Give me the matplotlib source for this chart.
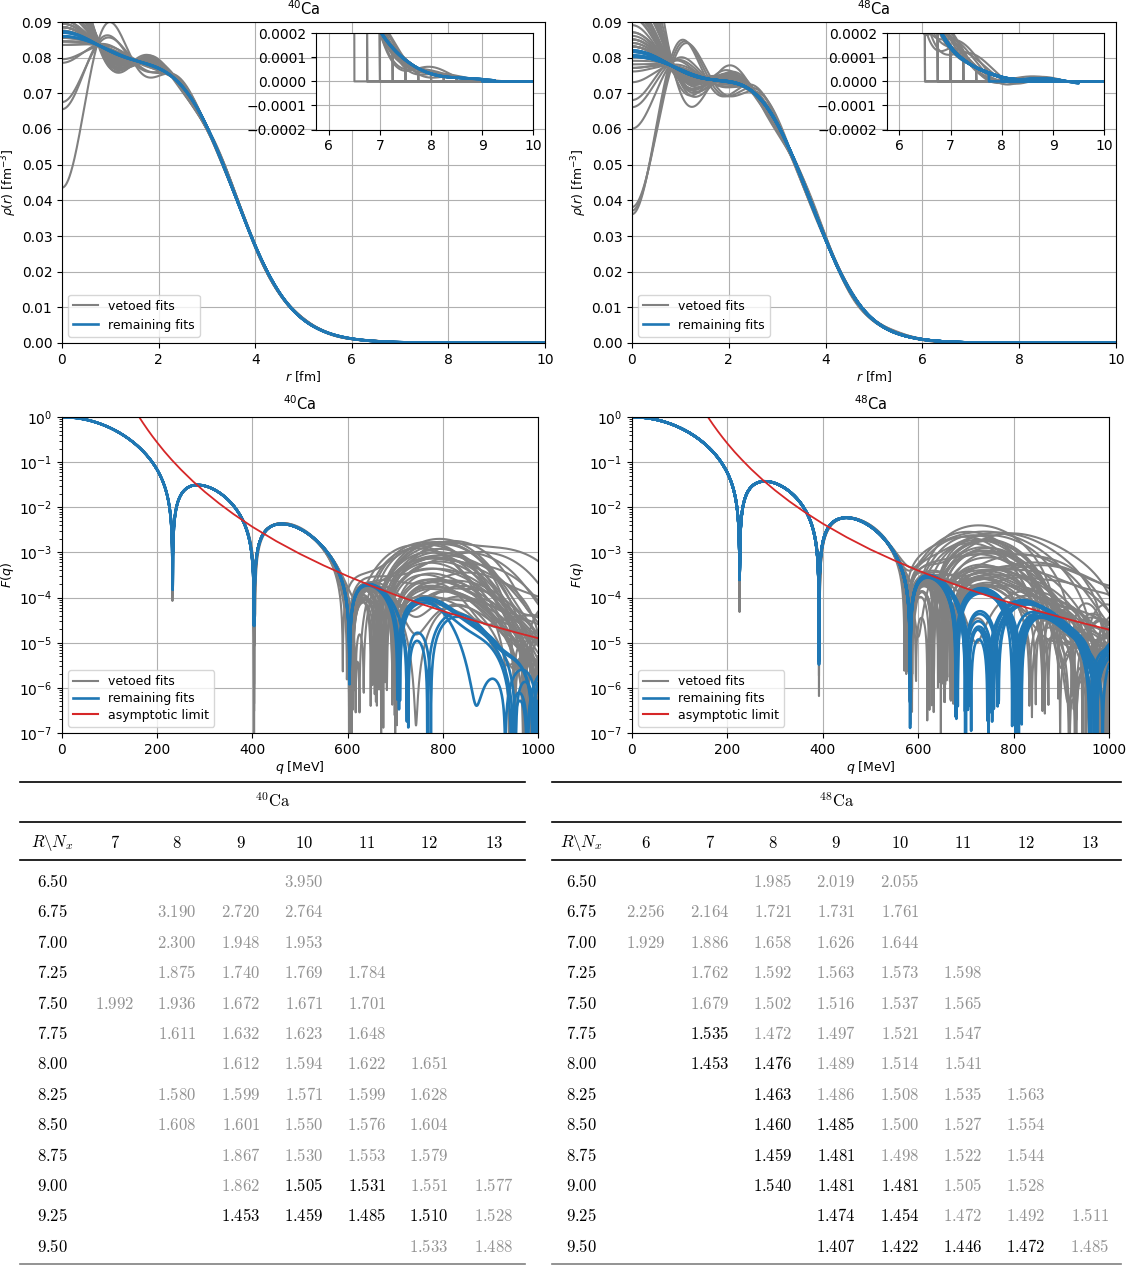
import numpy as np
import matplotlib
matplotlib.use("Agg")
import matplotlib.pyplot as plt
from matplotlib.lines import Line2D
from matplotlib.ticker import FuncFormatter

HBARC = 197.327      # MeV fm
Z = 20
R_REF = 10.0         # fm, radius of the Fourier-Bessel reference expansion

# ---------------- data ----------------
# reference charge form factor read at the Fourier-Bessel nodes q_n = n*pi/R_REF (n = 1..16)
Fnode_40 = [8.1522e-01, 4.2579e-01, 1.1246e-01, -1.7371e-02, -2.7533e-02, -7.2650e-03, 3.4659e-03, 3.4806e-03,
            9.8339e-04, -1.3237e-04, -1.0861e-04, 4.4365e-05, 8.0e-06, -5.0e-06, -3.0e-06, 1.5e-06]
Fnode_48 = [8.1585e-01, 4.2324e-01, 1.0341e-01, -2.6749e-02, -3.0799e-02, -5.6196e-03, 5.5444e-03, 4.0063e-03,
            6.5762e-04, -2.9e-04, -4.1037e-05, 8.3740e-05, -4.0e-05, -4.0e-05, -2.0e-05, 1.0e-05]

# asymptotic limit (red curve)
asym_q = [150, 160, 170, 180, 190, 200, 215, 230, 250, 275, 300, 330, 360, 400, 450, 500,
          550, 600, 650, 700, 750, 800, 850, 900, 950, 1000]
asym_40 = [1.62, 1.08, 0.744, 0.522, 0.373, 0.272, 0.173, 0.114, 0.0681, 0.0377, 0.022, 0.0122, 0.0071,
           0.00369, 0.00178, 0.000926, 0.000513, 0.000299, 0.000182, 0.000115, 7.5e-05, 5.03e-05,
           3.45e-05, 2.42e-05, 1.73e-05, 1.26e-05]
asym_48 = [1.42, 0.968, 0.677, 0.483, 0.351, 0.259, 0.169, 0.114, 0.0695, 0.0396, 0.0237, 0.0135, 0.00809,
           0.00434, 0.00217, 0.00116, 0.000664, 0.000397, 0.000248, 0.00016, 0.000106, 7.27e-05,
           5.09e-05, 3.63e-05, 2.64e-05, 1.95e-05]

# table / fits: cut-off radius R, number of terms N_x, table value, kept (1) or vetoed (0),
# and deviation of the fitted central density from the reference (fm^-3)
fit_R_40 = [6.50, 6.75, 6.75, 6.75, 7.00, 7.00, 7.00, 7.25, 7.25, 7.25, 7.25,
            7.50, 7.50, 7.50, 7.50, 7.50, 7.75, 7.75, 7.75, 7.75,
            8.00, 8.00, 8.00, 8.00, 8.25, 8.25, 8.25, 8.25, 8.25,
            8.50, 8.50, 8.50, 8.50, 8.50, 8.75, 8.75, 8.75, 8.75,
            9.00, 9.00, 9.00, 9.00, 9.00, 9.25, 9.25, 9.25, 9.25, 9.25, 9.50, 9.50]
fit_N_40 = [10, 8, 9, 10, 8, 9, 10, 8, 9, 10, 11,
            7, 8, 9, 10, 11, 8, 9, 10, 11,
            9, 10, 11, 12, 8, 9, 10, 11, 12,
            8, 9, 10, 11, 12, 9, 10, 11, 12,
            9, 10, 11, 12, 13, 9, 10, 11, 12, 13, 12, 13]
fit_val_40 = [3.950, 3.190, 2.720, 2.764, 2.300, 1.948, 1.953, 1.875, 1.740, 1.769, 1.784,
              1.992, 1.936, 1.672, 1.671, 1.701, 1.611, 1.632, 1.623, 1.648,
              1.612, 1.594, 1.622, 1.651, 1.580, 1.599, 1.571, 1.599, 1.628,
              1.608, 1.601, 1.550, 1.576, 1.604, 1.867, 1.530, 1.553, 1.579,
              1.862, 1.505, 1.531, 1.551, 1.577, 1.453, 1.459, 1.485, 1.510, 1.528, 1.533, 1.488]
fit_kept_40 = [0] * 39 + [1, 1, 0, 0, 1, 1, 1, 1, 0, 0, 0]
fit_dev_40 = [-0.043, 0.02, 0.025, -0.021, 0.022, 0.015, -0.019, 0.002, 0.02, 0.012, -0.008,
              -0.003, 0.004, 0.016, 0.004, 0.015, 0.003, 0.022, 0.01, 0.003,
              -0.002, 0.018, 0.014, 0.002, 0.001, -0.002, 0.014, -0.007, 0.001,
              0.002, 0.003, 0.026, 0.008, -0.003, -0.001, 0.013, 0.012, 0.002,
              0.002, 0.0008, 0.0005, 0.006, -0.002, -0.0006, 0.0007, -0.0005, 0.0005, 0.004, 0.007, -0.001]

fit_R_48 = [6.50, 6.50, 6.50, 6.75, 6.75, 6.75, 6.75, 6.75, 7.00, 7.00, 7.00, 7.00, 7.00,
            7.25, 7.25, 7.25, 7.25, 7.25, 7.50, 7.50, 7.50, 7.50, 7.50,
            7.75, 7.75, 7.75, 7.75, 7.75, 8.00, 8.00, 8.00, 8.00, 8.00,
            8.25, 8.25, 8.25, 8.25, 8.25, 8.50, 8.50, 8.50, 8.50, 8.50,
            8.75, 8.75, 8.75, 8.75, 8.75, 9.00, 9.00, 9.00, 9.00, 9.00,
            9.25, 9.25, 9.25, 9.25, 9.25, 9.50, 9.50, 9.50, 9.50, 9.50]
fit_N_48 = [8, 9, 10, 6, 7, 8, 9, 10, 6, 7, 8, 9, 10,
            7, 8, 9, 10, 11, 7, 8, 9, 10, 11,
            7, 8, 9, 10, 11, 7, 8, 9, 10, 11,
            8, 9, 10, 11, 12, 8, 9, 10, 11, 12,
            8, 9, 10, 11, 12, 8, 9, 10, 11, 12,
            9, 10, 11, 12, 13, 9, 10, 11, 12, 13]
fit_val_48 = [1.985, 2.019, 2.055, 2.256, 2.164, 1.721, 1.731, 1.761, 1.929, 1.886, 1.658, 1.626, 1.644,
              1.762, 1.592, 1.563, 1.573, 1.598, 1.679, 1.502, 1.516, 1.537, 1.565,
              1.535, 1.472, 1.497, 1.521, 1.547, 1.453, 1.476, 1.489, 1.514, 1.541,
              1.463, 1.486, 1.508, 1.535, 1.563, 1.460, 1.485, 1.500, 1.527, 1.554,
              1.459, 1.481, 1.498, 1.522, 1.544, 1.540, 1.481, 1.481, 1.505, 1.528,
              1.474, 1.454, 1.472, 1.492, 1.511, 1.407, 1.422, 1.446, 1.472, 1.485]
fit_kept_48 = [0] * 23 + [1, 0, 0, 0, 0, 1, 1, 0, 0, 0,
                          1, 0, 0, 0, 0, 1, 1, 0, 0, 0,
                          1, 1, 0, 0, 0, 1, 1, 1, 0, 0,
                          1, 1, 0, 0, 0, 1, 1, 1, 1, 0]
fit_dev_48 = [0.03, -0.045, 0.014, 0.003, -0.004, 0.045, -0.044, 0.01, 0.002, 0.004, 0.03, -0.043, -0.021,
              -0.003, 0.022, 0.012, -0.015, -0.013, 0.002, 0.02, 0.014, -0.008, 0.008,
              0.0008, 0.002, 0.025, -0.005, 0.004, -0.0008, 0.0006, 0.022, 0.011, 0.005,
              0.0007, 0.02, 0.012, -0.004, 0.003, -0.0006, 0.0009, 0.02, 0.01, -0.002,
              0.0005, -0.0007, 0.016, 0.006, 0.002, 0.0009, -0.0005, 0.0008, 0.014, -0.001,
              0.0006, -0.0008, 0.011, 0.006, 0.002, -0.0009, 0.0007, 0.0006, -0.0005, 0.004]

q_lim_40 = 740.0     # MeV, upper end of the well-constrained region
q_lim_48 = 690.0

rows_R = [6.50, 6.75, 7.00, 7.25, 7.50, 7.75, 8.00, 8.25, 8.50, 8.75, 9.00, 9.25, 9.50]
cols_N_40 = [7, 8, 9, 10, 11, 12, 13]
cols_N_48 = [6, 7, 8, 9, 10, 11, 12, 13]

# ---------------- Fourier-Bessel machinery ----------------
S_WIN = 4.5


def j0(x):
    return np.sinc(x / np.pi)


n_ref = np.arange(1, 17)
q_ref = n_ref * np.pi / R_REF

r_grid = np.arange(0, 10.0001, 0.005)
q_mev = np.linspace(0.5, 1000, 2000)
q_fm = q_mev / HBARC
FT = j0(np.outer(q_fm, r_grid)) * r_grid ** 2 * 0.005
FT[:, 0] *= 0.5
FT[:, -1] *= 0.5


def fb_coeffs(Fnode):
    return Z * np.asarray(Fnode) * q_ref ** 2 / (2 * np.pi * R_REF)


def fb_density(Fnode):
    a = fb_coeffs(Fnode)
    out = (a[None, :] * j0(np.outer(r_grid, q_ref))).sum(1)
    out[-1] = 0.0
    return out


def fb_formfactor(Fnode):
    a = fb_coeffs(Fnode)
    sgn = (-1.0) ** (n_ref + 1)
    s = np.sin(q_fm * R_REF) / q_fm
    return (4 * np.pi / Z) * s * ((a * sgn)[None, :] / (q_ref[None, :] ** 2 - q_fm[:, None] ** 2)).sum(1)


def fit_curves(R, N, d0, rho_ref, F_ref, qlim):
    n = np.arange(1, N + 1)
    qn = n * np.pi / R
    qt = qn[qn * HBARC > qlim]
    if len(qt) == 0:
        qt = np.array([(qlim + 60) / HBARC])
    shape = j0(np.outer(r_grid, qt)).mean(1) * np.exp(-(r_grid / S_WIN) ** 2)
    rho = np.where(r_grid < R, rho_ref + d0 * shape, 0.0)
    F = F_ref + (FT @ (rho - rho_ref)) * 4 * np.pi / Z
    return rho, F


# ---------------- figure ----------------
plt.rcParams["mathtext.fontset"] = "dejavusans"
fig = plt.figure(figsize=(11.32, 12.65), dpi=100)
W, H = 1132.0, 1265.0


def axbox(l, r_, t, b):
    return [l / W, 1 - b / H, (r_ - l) / W, (b - t) / H]


GRAY = "#808080"
BLUE = "#1f77b4"
RED = "#d62728"

panels = [
    ("40", axbox(62, 545, 22, 343), axbox(62, 538, 417, 733), fit_R_40, fit_N_40, fit_kept_40, fit_dev_40,
     Fnode_40, q_lim_40, asym_40),
    ("48", axbox(632, 1116, 22, 343), axbox(632, 1109, 417, 733), fit_R_48, fit_N_48, fit_kept_48, fit_dev_48,
     Fnode_48, q_lim_48, asym_48),
]

for nm, box_rho, box_F, fR, fN, fK, fD, Fnode, qlim, asym in panels:
    axr = fig.add_axes(box_rho)
    axf = fig.add_axes(box_F)
    ins = axr.inset_axes([0.526, 0.665, 0.45, 0.30])
    rr = fb_density(Fnode)
    Fr = fb_formfactor(Fnode)
    curves = [fit_curves(R, N, d, rr, Fr, qlim) for R, N, d in zip(fR, fN, fD)]
    for order in (0, 1):
        for (rho, F), k in zip(curves, fK):
            if k != order:
                continue
            col = BLUE if k else GRAY
            lw = 1.9 if k else 1.5
            axr.plot(r_grid, rho, color=col, lw=lw)
            ins.plot(r_grid, rho, color=col, lw=lw)
            axf.plot(q_mev, np.abs(F), color=col, lw=lw)
    axf.plot(asym_q, asym, color=RED, lw=1.3)

    axr.set_xlim(0, 10)
    axr.set_ylim(0, 0.09)
    axr.set_yticks(np.arange(0, 0.0901, 0.01))
    axr.set_xlabel(r"$r$ [fm]", fontsize=9, labelpad=2)
    axr.set_ylabel(r"$\rho(r)$ [fm$^{-3}$]", fontsize=9, labelpad=2)
    axr.set_title(r"$^{%s}$Ca" % nm, fontsize=10.5, pad=5)
    axr.grid(True, color="#b0b0b0", lw=0.8)
    axr.legend([Line2D([], [], color=GRAY, lw=1.5), Line2D([], [], color=BLUE, lw=1.9)],
               ["vetoed fits", "remaining fits"], loc="lower left", fontsize=9)

    ins.set_xlim(5.75, 10)
    ins.set_ylim(-0.0002, 0.0002)
    ins.set_xticks([6, 7, 8, 9, 10])
    ins.set_yticks([-0.0002, -0.0001, 0, 0.0001, 0.0002])
    ins.yaxis.set_major_formatter(FuncFormatter(lambda v, p: ("%.4f" % v).replace("-", "\u2212")))
    ins.grid(True, color="#b0b0b0", lw=0.8)

    axf.set_yscale("log")
    axf.set_xlim(0, 1000)
    axf.set_ylim(1e-7, 1)
    axf.set_xticks([0, 200, 400, 600, 800, 1000])
    axf.set_xlabel(r"$q$ [MeV]", fontsize=9, labelpad=2)
    axf.set_ylabel(r"$F(q)$", fontsize=9, labelpad=2)
    axf.set_title(r"$^{%s}$Ca" % nm, fontsize=10.5, pad=5)
    axf.grid(True, color="#b0b0b0", lw=0.8)
    axf.legend([Line2D([], [], color=GRAY, lw=1.5), Line2D([], [], color=BLUE, lw=1.9),
                Line2D([], [], color=RED, lw=1.5)],
               ["vetoed fits", "remaining fits", "asymptotic limit"], loc="lower left", fontsize=9,
               labelspacing=0.3)

# ---------------- tables ----------------
TGRAY = "#939393"


def ftext(x, y, s, color="black", size=12):
    fig.text(x / W, 1 - y / H, s, ha="center", va="center", color=color, fontsize=size, math_fontfamily="cm")


def hline(x0, x1, y, color="black", lw=1.2):
    fig.add_artist(Line2D([x0 / W, x1 / W], [1 - y / H, 1 - y / H], color=color, lw=lw))


tables = [
    ("40", 20, 525, 52, [115, 177, 241, 304, 367, 429, 494], cols_N_40, fit_R_40, fit_N_40, fit_val_40, fit_kept_40),
    ("48", 552, 1121, 581, [646, 710, 773, 836, 900, 963, 1026, 1090], cols_N_48, fit_R_48, fit_N_48, fit_val_48,
     fit_kept_48),
]
for nm, x0, x1, xr, xcols, cols, fR, fN, fV, fK in tables:
    hline(x0, x1, 782)
    ftext((x0 + x1) / 2, 802, r"$^{%s}\mathrm{Ca}$" % nm)
    hline(x0, x1, 822)
    ftext(xr, 843, r"$R\backslash N_x$")
    for xc, c in zip(xcols, cols):
        ftext(xc, 843, r"$%d$" % c)
    hline(x0, x1, 860)
    for i, R in enumerate(rows_R):
        ftext(xr, 882 + 30.4 * i, r"$%.2f$" % R)
    for R, N, v, k in zip(fR, fN, fV, fK):
        i = rows_R.index(R)
        xc = xcols[cols.index(N)]
        ftext(xc, 882 + 30.4 * i, r"$%.3f$" % v, color="black" if k else TGRAY)
    hline(x0, x1, 1264, color="#808080")

fig.savefig("out.png", dpi=100)
